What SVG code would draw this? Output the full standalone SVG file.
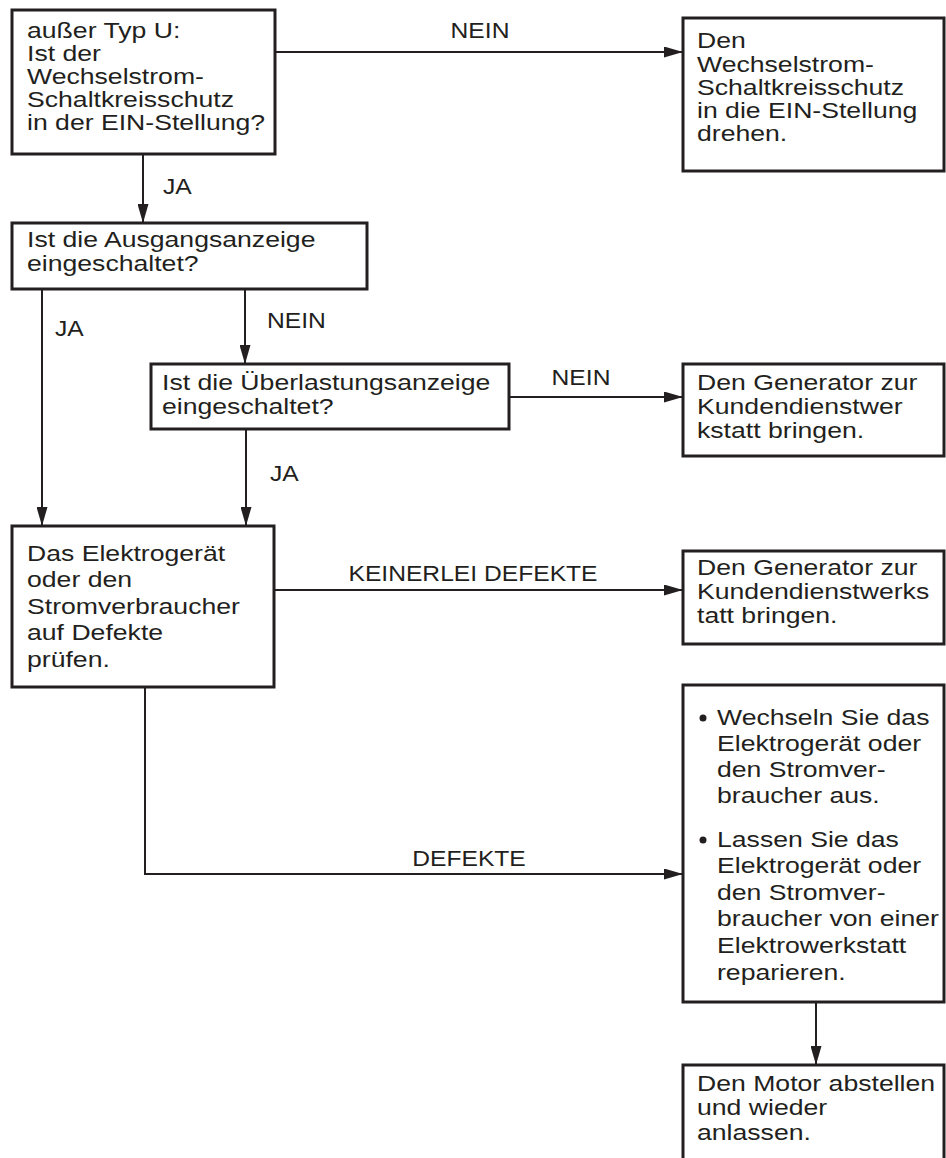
<svg xmlns="http://www.w3.org/2000/svg" width="946" height="1158" viewBox="0 0 946 1158">
<style>
.bg{fill:#ffffff}
.box{fill:#ffffff;stroke:#231f20;stroke-width:3}
.c{fill:none;stroke:#231f20;stroke-width:2}
.t{font-family:"Liberation Sans",Arial,Helvetica,sans-serif;font-size:22px;fill:#231f20}
.l{font-family:"Liberation Sans",Arial,Helvetica,sans-serif;font-size:22px;fill:#231f20}
.b{fill:#231f20}
</style>
<defs>
<marker id="ah" markerUnits="userSpaceOnUse" markerWidth="19" markerHeight="11" refX="19" refY="5.5" orient="auto">
<path d="M0,0 L19,5.5 L0,11 z" fill="#231f20"/>
</marker>
</defs>
<rect class="bg" x="0" y="0" width="946" height="1158"/>

<g id="connectors">
<line class="c" x1="275" y1="52" x2="683" y2="52" marker-end="url(#ah)"/>
<line class="c" x1="143" y1="154" x2="143" y2="223" marker-end="url(#ah)"/>
<line class="c" x1="42" y1="289" x2="42" y2="526" marker-end="url(#ah)"/>
<line class="c" x1="245" y1="289" x2="245" y2="364" marker-end="url(#ah)"/>
<line class="c" x1="509" y1="397" x2="683" y2="397" marker-end="url(#ah)"/>
<line class="c" x1="246" y1="429" x2="246" y2="526" marker-end="url(#ah)"/>
<line class="c" x1="274" y1="590" x2="683" y2="590" marker-end="url(#ah)"/>
<polyline class="c" points="145,687 145,874 683,874" marker-end="url(#ah)"/>
<line class="c" x1="816" y1="1002" x2="816" y2="1065" stroke-width="1.5" marker-end="url(#ah)"/>
<g id="labels">
<text class="l" transform="matrix(1.12 0 0 1 480 0)" text-anchor="middle" y="38">NEIN</text>
<text class="l" transform="matrix(1.12 0 0 1 163 0)" y="194">JA</text>
<text class="l" transform="matrix(1.12 0 0 1 55 0)" y="336">JA</text>
<text class="l" transform="matrix(1.12 0 0 1 267 0)" y="328">NEIN</text>
<text class="l" transform="matrix(1.12 0 0 1 581 0)" text-anchor="middle" y="385">NEIN</text>
<text class="l" transform="matrix(1.12 0 0 1 270 0)" y="481">JA</text>
<text class="l" transform="matrix(1.12 0 0 1 473 0)" text-anchor="middle" y="581">KEINERLEI DEFEKTE</text>
<text class="l" transform="matrix(1.12 0 0 1 469 0)" text-anchor="middle" y="866">DEFEKTE</text>
</g>
</g>

<g id="n1">
<rect class="box" x="12" y="10" width="263" height="144"/>
<text class="t" transform="matrix(1.21 0 0 1 27 0)"><tspan x="0" y="38">außer Typ U:</tspan><tspan x="0" y="61">Ist der</tspan><tspan x="0" y="84">Wechselstrom-</tspan><tspan x="0" y="107">Schaltkreisschutz</tspan><tspan x="0" y="130">in der EIN-Stellung?</tspan></text>
</g>

<g id="n2">
<rect class="box" x="683" y="18" width="261" height="153"/>
<text class="t" transform="matrix(1.21 0 0 1 697 0)"><tspan x="0" y="48">Den</tspan><tspan x="0" y="72">Wechselstrom-</tspan><tspan x="0" y="95">Schaltkreisschutz</tspan><tspan x="0" y="118">in die EIN-Stellung</tspan><tspan x="0" y="141">drehen.</tspan></text>
</g>

<g id="n3">
<rect class="box" x="12" y="223" width="355" height="66"/>
<text class="t" transform="matrix(1.21 0 0 1 27 0)"><tspan x="0" y="247">Ist die Ausgangsanzeige</tspan><tspan x="0" y="271">eingeschaltet?</tspan></text>
</g>

<g id="n4">
<rect class="box" x="151" y="364" width="358" height="65"/>
<text class="t" transform="matrix(1.21 0 0 1 162 0)"><tspan x="0" y="390">Ist die Überlastungsanzeige</tspan><tspan x="0" y="414">eingeschaltet?</tspan></text>
</g>

<g id="n5">
<rect class="box" x="683" y="364" width="261" height="92"/>
<text class="t" transform="matrix(1.21 0 0 1 697 0)"><tspan x="0" y="390">Den Generator zur</tspan><tspan x="0" y="414">Kundendienstwer</tspan><tspan x="0" y="438">kstatt bringen.</tspan></text>
</g>

<g id="n6">
<rect class="box" x="12" y="526" width="262" height="161"/>
<text class="t" transform="matrix(1.21 0 0 1 27 0)"><tspan x="0" y="561">Das Elektrogerät</tspan><tspan x="0" y="587">oder den</tspan><tspan x="0" y="614">Stromverbraucher</tspan><tspan x="0" y="640">auf Defekte</tspan><tspan x="0" y="667">prüfen.</tspan></text>
</g>

<g id="n7">
<rect class="box" x="683" y="551" width="261" height="93"/>
<text class="t" transform="matrix(1.21 0 0 1 697 0)"><tspan x="0" y="575">Den Generator zur</tspan><tspan x="0" y="599">Kundendienstwerks</tspan><tspan x="0" y="623">tatt bringen.</tspan></text>
</g>

<g id="n8">
<rect class="box" x="683" y="685" width="261" height="317"/>
<circle class="b" cx="703" cy="718" r="3.5"/>
<circle class="b" cx="703" cy="840" r="3.5"/>
<text class="t" transform="matrix(1.21 0 0 1 717 0)"><tspan x="0" y="725">Wechseln Sie das</tspan><tspan x="0" y="751">Elektrogerät oder</tspan><tspan x="0" y="777">den Stromver-</tspan><tspan x="0" y="803">braucher aus.</tspan><tspan x="0" y="847">Lassen Sie das</tspan><tspan x="0" y="873">Elektrogerät oder</tspan><tspan x="0" y="900">den Stromver-</tspan><tspan x="0" y="926">braucher von einer</tspan><tspan x="0" y="953">Elektrowerkstatt</tspan><tspan x="0" y="980">reparieren.</tspan></text>
</g>

<g id="n9">
<rect class="box" x="683" y="1065" width="261" height="200"/>
<text class="t" transform="matrix(1.21 0 0 1 697 0)"><tspan x="0" y="1091">Den Motor abstellen</tspan><tspan x="0" y="1115">und wieder</tspan><tspan x="0" y="1140">anlassen.</tspan></text>
</g>
</svg>
